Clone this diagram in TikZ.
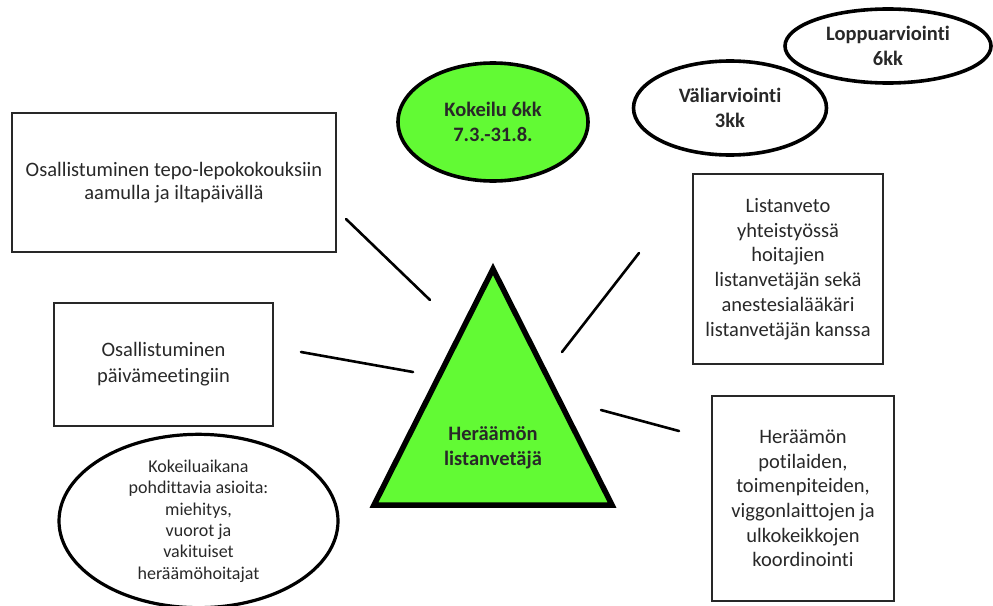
\documentclass[tikz,border=0pt]{standalone}
\usepackage{fontspec}
\setmainfont{Carlito}[Ligatures=NoCommon]
\usetikzlibrary{shapes.geometric}
\definecolor{leafgreen}{RGB}{98,250,52}
\definecolor{inkgray}{RGB}{40,40,40}
\tikzset{
  textbox/.style={draw=inkgray, line width=1.8pt, rectangle, align=center,
    inner sep=0pt, text=inkgray, font=\fontsize{20.5}{24.7}\selectfont},
  oval/.style={draw=black, line width=3.6pt, ellipse, align=center,
    inner sep=0pt, font=\bfseries\fontsize{20.5}{24.7}\selectfont},
  link/.style={draw=black, line width=2.6pt, line cap=round},
}
\begin{document}
\begin{tikzpicture}[x=1pt,y=-1pt]
\useasboundingbox (0,0) rectangle (993,605);

% central triangle
\fill[leafgreen] (493,269) -- (612,505) -- (374,505) -- cycle;
\draw[line width=5.5pt, line join=miter] (493,269) -- (612,505) -- (374,505) -- cycle;
\node[align=center, font=\bfseries\fontsize{20.5}{25}\selectfont, text=inkgray]
  (lead) at (493,448) {Heräämön\\listanvetäjä};

% boxes
\node[textbox, minimum width=324pt, minimum height=139pt,
  font=\fontsize{20.5}{23}\selectfont] (meet) at (174,182.5)
  {Osallistuminen tepo-lepokokouksiin\\aamulla ja iltapäivällä};
\node[textbox, minimum width=219pt, minimum height=123pt,
  font=\fontsize{20.5}{26}\selectfont] (daily) at (163.5,364.5)
  {Osallistuminen\\päivämeetingiin};
\node[textbox, minimum width=190pt, minimum height=190pt] (list) at (788,269)
  {Listanveto\\yhteistyössä\\hoitajien\\listanvetäjän sekä\\anestesialääkäri\\listanvetäjän kanssa};
\node[textbox, minimum width=182pt, minimum height=205pt] (coord) at (803,498.5)
  {Heräämön\\potilaiden,\\toimenpiteiden,\\viggonlaittojen ja\\ulkokeikkojen\\koordinointi};

% ellipses
\node[oval, fill=leafgreen, minimum width=190pt, minimum height=118pt, text=inkgray]
  (trial) at (493,122) {Kokeilu 6kk\\7.3.-31.8.};
\node[oval, minimum width=193pt, minimum height=94pt, text=inkgray]
  (mid) at (730,108) {Väliarviointi\\3kk};
\node[oval, minimum width=206pt, minimum height=74pt, text=inkgray]
  (final) at (888,46) {Loppuarviointi\\6kk};
\node[oval, line width=3.2pt, minimum width=279pt, minimum height=165pt,
  font=\fontsize{18}{21.4}\selectfont, text=inkgray]
  (issues) at (198.5,521)
  {Kokeiluaikana\\pohdittavia asioita:\\miehitys,\\vuorot ja\\vakituiset\\heräämöhoitajat};

% connector end points
\coordinate (meetEnd) at (346,219);
\coordinate (leadA) at (430,300);
\coordinate (dailyEnd) at (301,352);
\coordinate (leadB) at (413,372);
\coordinate (listEnd) at (639,253);
\coordinate (leadC) at (562,352);
\coordinate (leadD) at (601,410);
\coordinate (coordEnd) at (679,431);

\draw[link] (meetEnd) -- (leadA);
\draw[link] (dailyEnd) -- (leadB);
\draw[link] (listEnd) -- (leadC);
\draw[link] (leadD) -- (coordEnd);
\end{tikzpicture}
\end{document}
